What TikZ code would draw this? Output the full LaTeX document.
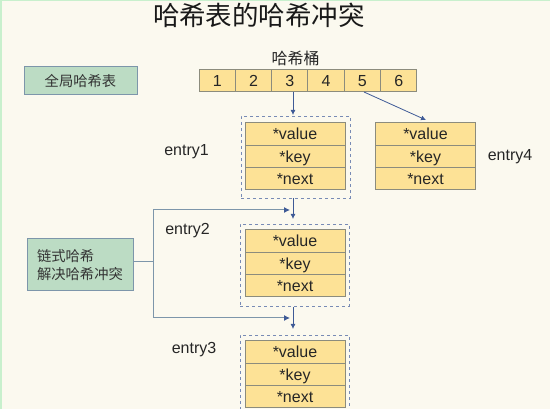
\documentclass[tikz,border=0pt]{standalone}
\usepackage{xcolor}
\usepackage{fontspec}
\setmainfont{Liberation Sans}
\newfontfamily\cjk{Noto Sans CJK SC}
\usetikzlibrary{arrows.meta, positioning}
\definecolor{pagecream}{RGB}{251, 249, 239}
\definecolor{pageedge}{RGB}{200, 240, 205}
\definecolor{cellyellow}{RGB}{253, 226, 150}
\definecolor{cellline}{RGB}{140, 140, 125}
\definecolor{notegreen}{RGB}{188, 220, 196}
\definecolor{linkblue}{RGB}{62, 90, 150}
\definecolor{noteline}{RGB}{125, 150, 170}

\begin{document}
\begin{tikzpicture}[x=1pt, y=-1pt, node distance=0pt,
        bucket/.style={rectangle, draw=cellline, line width=1pt, outer sep=0pt, fill=cellyellow, minimum width=36.3pt, minimum height=22pt, inner sep=0pt, text height=11pt, text depth=0pt, font=\fontsize{16}{18}\selectfont, text=black!85},
        field/.style={rectangle, draw=cellline, line width=1pt, outer sep=0pt, fill=cellyellow, minimum width=100pt, minimum height=22.3pt, inner sep=0pt, text height=12pt, text depth=0pt, font=\fontsize{16}{18}\selectfont, text=black!85},
        group/.style={rectangle, draw=linkblue!70, dashed, line width=0.7pt, minimum width=109pt, inner sep=0pt},
        note/.style={rectangle, draw=noteline, line width=1pt, fill=notegreen, inner sep=0pt, font=\fontsize{14.3}{18}\selectfont\cjk, text=black!80},
        tag/.style={inner sep=0pt, font=\fontsize{16}{18}\selectfont, text=black!85},
        line/.style={draw=linkblue, line width=0.8pt, -{Latex[length=5pt,width=5pt]}},
        bar/.style={draw=noteline, line width=1pt},
        branch/.style={draw=noteline, line width=1pt, -{Latex[length=6pt,width=6pt,color=linkblue]}}]

        % Background
        \fill [pageedge] (0,0) rectangle (550,409);
        \fill [pagecream] (1.5,1.5) rectangle (550,409);
        \useasboundingbox (0,0) rectangle (550,409);

        % Title
        \node [inner sep=0pt, font=\fontsize{26.5}{30}\selectfont\cjk, text=black!90] (title) at (259,15) {哈希表的哈希冲突};
        \node [inner sep=0pt, font=\fontsize{16}{18}\selectfont\cjk, text=black!85] (bucketlabel) at (295.5,58) {哈希桶};

        % Buckets
        \node [bucket] (b1) at (217.2,81) {1};
        \node [bucket, right=of b1] (b2) {2};
        \node [bucket, right=of b2] (b3) {3};
        \node [bucket, right=of b3] (b4) {4};
        \node [bucket, right=of b4] (b5) {5};
        \node [bucket, right=of b5] (b6) {6};

        % Dashed groups
        \node [group, minimum height=82pt] (group1) at (295.5,157) {};
        \node [group, minimum height=82pt] (group2) at (294.5,265) {};
        \node [group, minimum height=82pt] (group3) at (294.5,376) {};

        % Entries
        \node [field] (value1) at (295,134) {*value};
        \node [field, below=of value1] (key1) {*key};
        \node [field, below=of key1] (next1) {*next};
        \node [field] (value2) at (295,241) {*value};
        \node [field, below=of value2] (key2) {*key};
        \node [field, below=of key2] (next2) {*next};
        \node [field] (value3) at (295,352) {*value};
        \node [field, below=of value3] (key3) {*key};
        \node [field, below=of key3] (next3) {*next};
        \node [field] (value4) at (425.5,134) {*value};
        \node [field, below=of value4] (key4) {*key};
        \node [field, below=of key4] (next4) {*next};

        % Labels
        \node [tag] (entry1) at (186.5,151.5) {entry1};
        \node [tag] (entry2) at (187.5,230.5) {entry2};
        \node [tag] (entry3) at (194,349.5) {entry3};
        \node [tag] (entry4) at (510,156.5) {entry4};

        % Notes
        \node [note, minimum width=113pt, minimum height=28pt] (globalnote) at (80.5,81) {全局哈希表};
        \node [note, minimum width=106pt, minimum height=52pt, align=left] (chainnote) at (80,265) {链式哈希\\解决哈希冲突};

        % Helper points
        \coordinate (start3) at (293,92);
        \coordinate (tip1) at (293,115);
        \coordinate (tip4) at (426,120);
        \coordinate (start5) at (364,92);
        \coordinate (tip2) at (293,219);
        \coordinate (tip3) at (293,329);
        \coordinate (from1) at (293,198);
        \coordinate (from2) at (293,307);
        \coordinate (fork) at (153,262);
        \coordinate (hit2) at (290,210);
        \coordinate (hit3) at (290,318);

        % Arrows
        \path [line] (start3) -- (tip1);
        \path [line] (start5) -- (tip4);
        \path [line] (from1) -- (tip2);
        \path [line] (from2) -- (tip3);
        \path [bar] (chainnote.east |- fork) -- (fork);
        \path [branch] (fork) |- (hit2);
        \path [branch] (fork) |- (hit3);
\end{tikzpicture}
\end{document}
